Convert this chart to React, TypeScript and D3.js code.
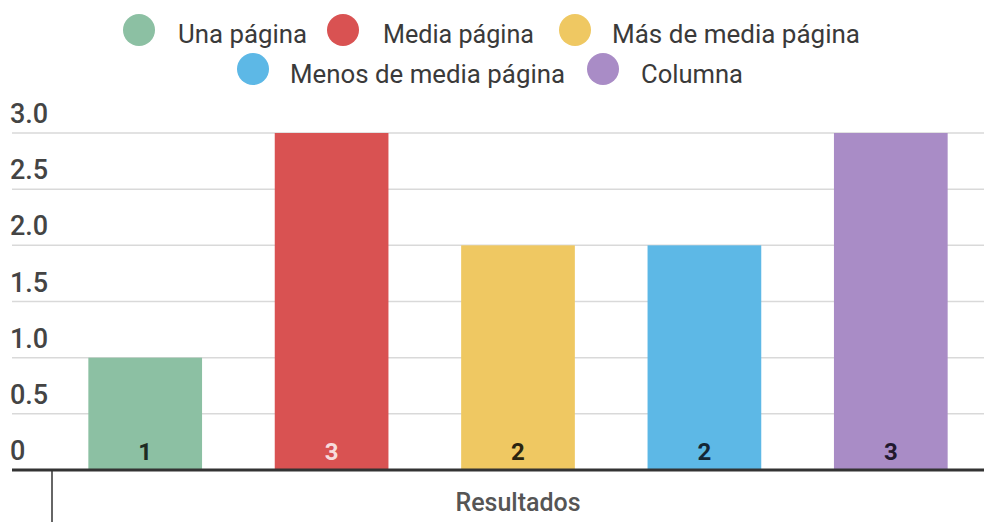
import React from "react";
import * as d3 from "d3";

const categories = ["Una página", "Media página", "Más de media página", "Menos de media página", "Columna"];
const values = [1, 3, 2, 2, 3];
const colors = ["#8cc0a3", "#d95252", "#efc862", "#5db8e6", "#a98cc6"];
const labelColors = ["#1d2b22", "#f7dcdc", "#2a2410", "#142636", "#22182e"];
const yTicks = [0, 0.5, 1, 1.5, 2, 2.5, 3];
const xTitle = "Resultados";

const W = 984;
const H = 522;

export default function App() {
  const x = d3.scaleBand<number>().domain(d3.range(values.length)).range([52, 984]).paddingInner(0.39).paddingOuter(0.195);
  const y = d3.scaleLinear().domain([0, 3]).range([470, 133]);
  const font = "Roboto, 'Noto Sans', sans-serif";

  const legendRows = [
    [
      { i: 0, cx: 139, tx: 178, w: 129 },
      { i: 1, cx: 343, tx: 383, w: 151 },
      { i: 2, cx: 575, tx: 612, w: 248 },
    ],
    [
      { i: 3, cx: 253, tx: 290, w: 275 },
      { i: 4, cx: 603, tx: 641, w: 102 },
    ],
  ];
  const rowY = [30, 69];
  const textY = [43, 83];

  return (
    <svg width={W} height={H} style={{ position: "absolute", left: 0, top: 0, background: "#fff" }}>
      {legendRows.map((row, r) =>
        row.map((it) => (
          <g key={it.i}>
            <circle cx={it.cx} cy={rowY[r]} r={16} fill={colors[it.i]} />
            <text
              x={it.tx}
              y={textY[r]}
              fontFamily={font}
              fontSize={26}
              fill="#3a3a3a"
              textLength={it.w}
              lengthAdjust="spacingAndGlyphs"
            >
              {categories[it.i]}
            </text>
          </g>
        ))
      )}
      {yTicks.map((t) => (
        <g key={t}>
          {t > 0 && <line x1={12} x2={984} y1={y(t)} y2={y(t)} stroke="#d9d9d9" strokeWidth={1.5} />}
          <text x={10} y={y(t) - 10} fontFamily={font} fontSize={27} fontWeight={500} fill="#444">
            {t === 0 ? "0" : t.toFixed(1)}
          </text>
        </g>
      ))}
      {values.map((v, i) => (
        <g key={i}>
          <rect x={x(i)} y={y(v)} width={x.bandwidth()} height={y(0) - y(v)} fill={colors[i]} />
          <text
            x={(x(i) as number) + x.bandwidth() / 2}
            y={y(0) - 10}
            textAnchor="middle"
            fontFamily={font}
            fontSize={24}
            fontWeight={700}
            fill={labelColors[i]}
          >
            {v}
          </text>
        </g>
      ))}
      <line x1={12} x2={984} y1={y(0)} y2={y(0)} stroke="#333" strokeWidth={3} />
      <line x1={52} x2={52} y1={y(0)} y2={522} stroke="#333" strokeWidth={1.5} />
      <text x={518} y={511} textAnchor="middle" fontFamily={font} fontSize={25} fontWeight={500} fill="#555">
        {xTitle}
      </text>
    </svg>
  );
}
